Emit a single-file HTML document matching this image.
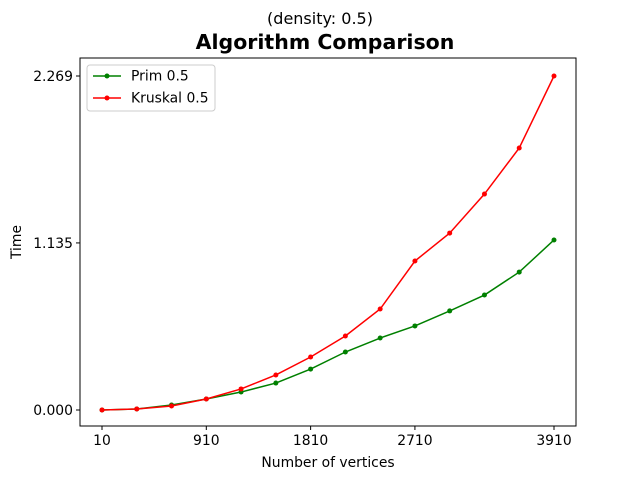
<!DOCTYPE html>
<html><head><meta charset="utf-8"><style>
body{margin:0;background:#fff;}
svg{font-family:"DejaVu Sans","Liberation Sans",sans-serif;}
</style></head><body>
<svg id="chart" width="640" height="480">
<text x="320" y="24" text-anchor="middle" font-size="16">(density: 0.5)</text>
<text x="325" y="49" text-anchor="middle" font-size="20.5" font-weight="bold">Algorithm Comparison</text>
<g id="plot"></g>
<rect x="80" y="58" width="496" height="368" fill="none" stroke="#000" stroke-width="1"/>
<text x="328" y="467" text-anchor="middle" font-size="13.9">Number of vertices</text>
<text transform="translate(21,242) rotate(-90)" text-anchor="middle" font-size="13.9">Time</text>
<g>
<rect x="87" y="65" width="128" height="46" fill="#fff" stroke="#ccc" rx="3"/>
<line x1="93" y1="76" x2="121" y2="76" stroke="green" stroke-width="1.5"/><circle cx="107" cy="76" r="2.5" fill="green"/>
<text x="131" y="80.5" font-size="13.9">Prim 0.5</text>
<line x1="93" y1="98" x2="121" y2="98" stroke="red" stroke-width="1.5"/><circle cx="107" cy="98" r="2.5" fill="red"/>
<text x="131" y="102.5" font-size="13.9">Kruskal 0.5</text>
</g>
</svg>
<script>
const xValues=[10,310,610,910,1210,1510,1810,2110,2410,2710,3010,3310,3610,3910];
const primValues=[0,0.007,0.034,0.075,0.122,0.183,0.278,0.394,0.489,0.571,0.673,0.781,0.937,1.155];
const kruskalValues=[0,0.007,0.027,0.075,0.143,0.238,0.360,0.503,0.686,1.012,1.202,1.467,1.780,2.269];
const xTicks=[10,910,1810,2710,3910];
const yTicks=[0,1.135,2.269];
const yTickLabels=["0.000","1.135","2.269"];
const xs=v=>102+(v-10)*(452/3900);
const ys=v=>410-v*(334/2.269);
const ns="http://www.w3.org/2000/svg";
const g=document.getElementById('plot');
function mk(t,a){const e=document.createElementNS(ns,t);for(const k in a)e.setAttribute(k,a[k]);g.appendChild(e);return e;}
xTicks.forEach(v=>{
 const l=mk('line',{x1:xs(v),x2:xs(v),y1:426,y2:430,stroke:'#000'});
 
 
 const t=mk('text',{x:xs(v),y:445,'text-anchor':'middle','font-size':13.9});t.textContent=v;
 
 
});
yTicks.forEach((v,i)=>{
 const l=mk('line',{x1:76,x2:80,y1:ys(v),y2:ys(v),stroke:'#000'});
 
 
 const t=mk('text',{x:73,y:ys(v)+5,'text-anchor':'end','font-size':13.9});t.textContent=yTickLabels[i];
 
 
});
function series(vals,color,name){
 const p=mk('polyline',{points:vals.map((v,i)=>xs(xValues[i])+','+ys(v)).join(' '),fill:'none',stroke:color,'stroke-width':1.5});
 
 
 vals.forEach((v,i)=>{const c=mk('circle',{cx:xs(xValues[i]),cy:ys(v),r:2.5,fill:color});
  
  });
}
series(primValues,'green','prim');
series(kruskalValues,'red','kruskal');
</script>
</body></html>
